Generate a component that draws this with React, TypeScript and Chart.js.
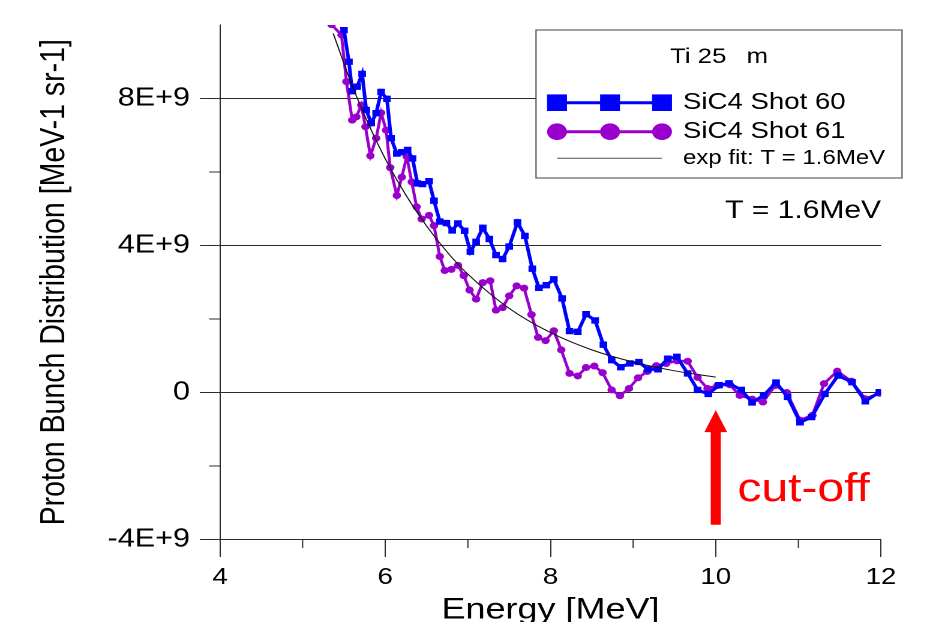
import React, { useEffect, useRef } from "react";
import { Chart, registerables } from "chart.js";

Chart.register(...registerables);

// ---- data (values in units of 1E+9 MeV-1 sr-1) ----
const energy60 = [5.50, 5.56, 5.60, 5.66, 5.72, 5.77, 5.83, 5.89, 5.95, 6.02, 6.07, 6.14, 6.20, 6.27, 6.33, 6.39, 6.45, 6.53, 6.59, 6.66, 6.74, 6.81, 6.88, 6.96, 7.03, 7.10, 7.18, 7.26, 7.34, 7.42, 7.50, 7.60, 7.69, 7.78, 7.86, 7.95, 8.04, 8.14, 8.23, 8.33, 8.43, 8.54, 8.64, 8.74, 8.85, 8.96, 9.07, 9.18, 9.30, 9.42, 9.53, 9.66, 9.78, 9.91, 10.04, 10.16, 10.31, 10.44, 10.58, 10.73, 10.87, 11.02, 11.16, 11.32, 11.48, 11.65, 11.81, 11.98];
const shot60 = [9.86, 9.00, 8.20, 8.32, 8.67, 7.69, 7.33, 7.60, 8.18, 7.99, 6.92, 6.50, 6.54, 6.60, 6.37, 5.69, 5.67, 5.75, 5.22, 4.65, 4.61, 4.41, 4.60, 4.40, 3.83, 4.10, 4.48, 4.18, 3.74, 3.63, 3.97, 4.63, 4.26, 3.37, 2.85, 2.92, 3.08, 2.56, 1.67, 1.65, 2.13, 1.96, 1.30, 0.88, 0.69, 0.79, 0.83, 0.63, 0.63, 0.92, 0.97, 0.52, 0.07, -0.04, 0.20, 0.25, 0.07, -0.27, -0.08, 0.27, -0.12, -0.81, -0.67, -0.04, 0.46, 0.28, -0.24, 0.01];

const energy61 = [5.35, 5.47, 5.53, 5.60, 5.65, 5.71, 5.76, 5.82, 5.89, 5.95, 6.01, 6.06, 6.14, 6.20, 6.26, 6.32, 6.38, 6.44, 6.53, 6.59, 6.66, 6.72, 6.80, 6.88, 6.95, 7.02, 7.10, 7.18, 7.27, 7.34, 7.42, 7.50, 7.59, 7.68, 7.77, 7.85, 7.94, 8.04, 8.13, 8.23, 8.33, 8.43, 8.53, 8.63, 8.74, 8.84, 8.95, 9.06, 9.17, 9.28, 9.40, 9.53, 9.66, 9.78, 9.90, 10.02, 10.17, 10.29, 10.44, 10.57, 10.72, 10.86, 11.02, 11.17, 11.31, 11.47, 11.64, 11.81, 11.98];
const shot61 = [10.01, 9.73, 8.46, 7.41, 7.50, 7.82, 7.23, 6.44, 6.92, 7.61, 7.14, 6.12, 5.36, 5.86, 6.42, 5.73, 5.05, 4.72, 4.82, 4.54, 3.70, 3.32, 3.35, 3.46, 3.18, 2.79, 2.54, 2.99, 3.04, 2.24, 2.31, 2.63, 2.90, 2.84, 2.12, 1.50, 1.41, 1.68, 1.16, 0.52, 0.45, 0.68, 0.72, 0.54, 0.07, -0.09, 0.11, 0.40, 0.57, 0.73, 0.79, 0.86, 0.85, 0.41, 0.11, 0.19, 0.21, -0.08, -0.18, -0.26, 0.19, 0.00, -0.75, -0.62, 0.24, 0.58, 0.31, -0.17, -0.02];

const fitEnergy = [5.37, 5.6, 5.8, 6.0, 6.25, 6.5, 6.75, 7.0, 7.5, 8.0, 8.5, 9.0, 9.5, 10.0];
const fitValues = [9.77, 8.35, 7.29, 6.36, 5.37, 4.53, 3.82, 3.22, 2.29, 1.63, 1.16, 0.83, 0.59, 0.42];

const xMinorTicks = [5, 7, 9, 11];
const yMinorTicks = [-2, 2, 6];

const legendTitle = "Ti 25 \u2002m";
const legendLabels = ["SiC4 Shot 60", "SiC4 Shot 61", "exp fit: T = 1.6MeV"];
const tempLabel = "T = 1.6MeV";
const cutoffLabel = "cut-off";
const cutoffEnergy = 10;
const arrowTipValue = -0.48;
const arrowTailValue = -3.6;
const tempLabelValue = 4.75;
const cutoffLabelValue = -2.95;

// ---- styles ----
const FONT = "'Liberation Sans', Arial, Helvetica, sans-serif";
const BLUE = "#0000ff";
const PURPLE = "#9900cc";
const RED = "#ff0000";
const AXIS = "#2a2a2a";
const STRETCH = 1.2;
const W = 943;
const H = 622;
const LW = W / STRETCH;

const overlayPlugin = {
  id: "overlay",
  afterDraw(chart: any) {
    const { ctx, chartArea } = chart;
    const x = chart.scales.x;
    const y = chart.scales.y;
    ctx.save();

    // minor ticks
    ctx.strokeStyle = AXIS;
    ctx.lineWidth = 1;
    for (const v of yMinorTicks) {
      const py = y.getPixelForValue(v);
      ctx.beginPath();
      ctx.moveTo(chartArea.left - 9, py);
      ctx.lineTo(chartArea.left, py);
      ctx.stroke();
    }
    for (const v of xMinorTicks) {
      const px = x.getPixelForValue(v);
      ctx.beginPath();
      ctx.moveTo(px, chartArea.bottom);
      ctx.lineTo(px, chartArea.bottom + 8.5);
      ctx.stroke();
    }

    // cut-off arrow
    const ax = x.getPixelForValue(cutoffEnergy);
    const tipY = y.getPixelForValue(arrowTipValue);
    const tailY = y.getPixelForValue(arrowTailValue);
    const headH = 22;
    const headHalf = 9.5;
    const shaftHalf = 4.2;
    ctx.fillStyle = RED;
    ctx.beginPath();
    ctx.moveTo(ax, tipY);
    ctx.lineTo(ax + headHalf, tipY + headH);
    ctx.lineTo(ax + shaftHalf, tipY + headH);
    ctx.lineTo(ax + shaftHalf, tailY);
    ctx.lineTo(ax - shaftHalf, tailY);
    ctx.lineTo(ax - shaftHalf, tipY + headH);
    ctx.lineTo(ax - headHalf, tipY + headH);
    ctx.closePath();
    ctx.fill();

    ctx.font = `40px ${FONT}`;
    ctx.textAlign = "left";
    ctx.textBaseline = "alphabetic";
    ctx.fillText(cutoffLabel, ax + 18, y.getPixelForValue(cutoffLabelValue));

    // T label
    ctx.fillStyle = "#000";
    ctx.font = `25px ${FONT}`;
    ctx.textAlign = "right";
    ctx.fillText(tempLabel, chartArea.right, y.getPixelForValue(tempLabelValue));

    // legend box
    const bl = chartArea.right - 287.5;
    const bt = chartArea.top + 5;
    const bw = 305;
    const bh = 148;
    ctx.fillStyle = "#fff";
    ctx.fillRect(bl, bt, bw, bh);
    ctx.strokeStyle = "#444";
    ctx.lineWidth = 1;
    ctx.strokeRect(bl, bt, bw, bh);

    ctx.fillStyle = "#000";
    ctx.font = `21.5px ${FONT}`;
    ctx.textAlign = "center";
    ctx.fillText(legendTitle, bl + bw / 2, bt + 33);

    const mx = [bl + 17.5, bl + 61.7, bl + 105];
    const rows = [bt + 72.7, bt + 101.7, bt + 128.3];
    const tx = bl + 122.5;

    // row 1 : blue squares
    ctx.strokeStyle = BLUE;
    ctx.fillStyle = BLUE;
    ctx.lineWidth = 3;
    ctx.beginPath();
    ctx.moveTo(mx[0], rows[0]);
    ctx.lineTo(mx[2], rows[0]);
    ctx.stroke();
    for (const m of mx) ctx.fillRect(m - 8.3, rows[0] - 8.3, 16.6, 16.6);

    // row 2 : purple circles
    ctx.strokeStyle = PURPLE;
    ctx.fillStyle = PURPLE;
    ctx.beginPath();
    ctx.moveTo(mx[0], rows[1]);
    ctx.lineTo(mx[2], rows[1]);
    ctx.stroke();
    for (const m of mx) {
      ctx.beginPath();
      ctx.arc(m, rows[1], 8.3, 0, Math.PI * 2);
      ctx.fill();
    }

    // row 3 : fit line
    ctx.strokeStyle = "#555";
    ctx.lineWidth = 1;
    ctx.beginPath();
    ctx.moveTo(mx[0], rows[2]);
    ctx.lineTo(mx[2], rows[2]);
    ctx.stroke();

    ctx.fillStyle = "#000";
    ctx.textAlign = "left";
    ctx.textBaseline = "middle";
    ctx.font = `23px ${FONT}`;
    ctx.fillText(legendLabels[0], tx, rows[0]);
    ctx.fillText(legendLabels[1], tx, rows[1]);
    ctx.font = `20px ${FONT}`;
    ctx.fillText(legendLabels[2], tx, rows[2]);

    ctx.restore();
  },
};

export default function App() {
  const ref = useRef<HTMLCanvasElement>(null);

  useEffect(() => {
    const canvas = ref.current;
    if (!canvas) return;
    const chart = new Chart(canvas, {
      type: "line",
      data: {
        datasets: [
          {
            label: legendLabels[2],
            data: fitEnergy.map((e, i) => ({ x: e, y: fitValues[i] })),
            borderColor: "#111",
            borderWidth: 1,
            pointRadius: 0,
            cubicInterpolationMode: "monotone",
            fill: false,
          },
          {
            label: legendLabels[0],
            data: energy60.map((e, i) => ({ x: e, y: shot60[i] })),
            borderColor: BLUE,
            backgroundColor: BLUE,
            borderWidth: 3,
            pointStyle: "rect",
            pointRadius: 4.5,
            pointBorderWidth: 0,
            tension: 0,
            fill: false,
          },
          {
            label: legendLabels[1],
            data: energy61.map((e, i) => ({ x: e, y: shot61[i] })),
            borderColor: PURPLE,
            backgroundColor: PURPLE,
            borderWidth: 2.5,
            pointStyle: "circle",
            pointRadius: 3.5,
            pointBorderWidth: 0,
            tension: 0,
            fill: false,
          },
        ],
      },
      options: {
        responsive: false,
        maintainAspectRatio: false,
        devicePixelRatio: 2,
        animation: false,
        events: [],
        layout: { padding: { top: 25, right: LW - 735, bottom: 0, left: 0 } },
        plugins: {
          legend: { display: false },
          tooltip: { enabled: false },
        },
        scales: {
          x: {
            type: "linear",
            min: 4,
            max: 12,
            afterFit: (s: any) => {
              s.height = H - 539.5;
            },
            ticks: {
              stepSize: 1,
              autoSkip: false,
              maxRotation: 0,
              padding: 7,
              color: "#000",
              font: { family: FONT, size: 23 },
              callback: (v: any) => (Number(v) % 2 === 0 ? String(v) : ""),
            },
            grid: {
              drawOnChartArea: false,
              tickLength: 17.5,
              color: (c: any) => (c.tick && c.tick.value % 2 === 0 ? AXIS : "rgba(0,0,0,0)"),
              tickColor: (c: any) => (c.tick && c.tick.value % 2 === 0 ? AXIS : "rgba(0,0,0,0)"),
            },
            border: { color: AXIS, width: 1 },
            title: {
              display: true,
              text: "Energy [MeV]",
              color: "#000",
              font: { family: FONT, size: 30, lineHeight: 1 },
              padding: { top: 0, bottom: -3 },
            },
          },
          y: {
            type: "linear",
            min: -4,
            max: 10,
            afterFit: (s: any) => {
              s.width = 220 / STRETCH;
            },
            ticks: {
              stepSize: 2,
              padding: 8.3,
              color: "#000",
              font: { family: FONT, size: 25.5 },
              callback: (v: any) => {
                const n = Number(v);
                if (n % 4 !== 0) return "";
                return n === 0 ? "0" : `${n}E+9`;
              },
            },
            grid: {
              tickLength: 16.7,
              lineWidth: 1,
              color: (c: any) => (c.tick && c.tick.value % 4 === 0 ? AXIS : "rgba(0,0,0,0)"),
              tickColor: (c: any) => (c.tick && c.tick.value % 4 === 0 ? AXIS : "rgba(0,0,0,0)"),
            },
            border: { color: AXIS, width: 1 },
            title: {
              display: true,
              text: "Proton Bunch Distribution [MeV-1 sr-1]",
              color: "#000",
              font: { family: FONT, size: 28.5, lineHeight: 1 },
              padding: { top: 31.5, bottom: 0 },
            },
          },
        },
      },
      plugins: [overlayPlugin],
    } as any);
    return () => chart.destroy();
  }, []);

  return (
    <div
      style={{
        position: "absolute",
        left: 0,
        top: 0,
        width: W,
        height: H,
        overflow: "hidden",
        background: "#fff",
      }}
    >
      <div
        style={{
          width: LW,
          height: H,
          transform: `scaleX(${STRETCH})`,
          transformOrigin: "0 0",
        }}
      >
        <canvas ref={ref} width={LW} height={H} style={{ display: "block" }} />
      </div>
    </div>
  );
}
